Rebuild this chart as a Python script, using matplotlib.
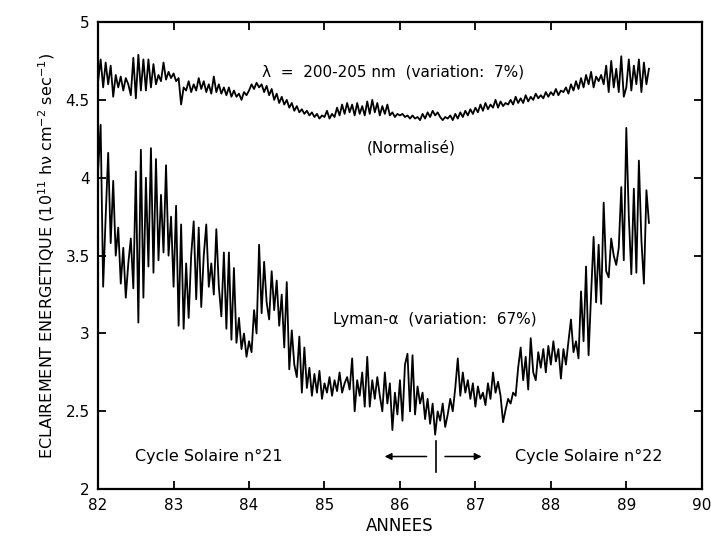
import numpy as np
import matplotlib
matplotlib.use("Agg")
import matplotlib.pyplot as plt

start_year = 82.0
per_year = 30

lyman = [
    # 82
    4.05, 4.34, 3.30, 3.75, 4.16, 3.58, 3.98, 3.50, 3.68, 3.32,
    3.55, 3.23, 3.45, 3.61, 3.29, 4.04, 3.07, 4.18, 3.23, 4.00,
    3.43, 4.19, 3.39, 4.12, 3.47, 3.89, 3.52, 4.08, 3.50, 3.75,
    # 83
    3.30, 3.82, 3.05, 3.70, 3.03, 3.45, 3.10, 3.50, 3.72, 3.22,
    3.68, 3.17, 3.50, 3.70, 3.30, 3.45, 3.25, 3.67, 3.30, 3.11,
    3.52, 3.03, 3.52, 2.96, 3.42, 2.94, 3.10, 2.90, 3.00, 2.85,
    # 84
    2.95, 2.88, 3.15, 3.00, 3.57, 3.13, 3.46, 3.20, 3.09, 3.40,
    3.15, 3.34, 3.05, 3.25, 2.91, 3.33, 2.77, 3.02, 2.80, 2.72,
    2.98, 2.62, 2.91, 2.65, 2.78, 2.60, 2.74, 2.62, 2.76, 2.58,
    # 85
    2.68, 2.62, 2.72, 2.60, 2.70, 2.63, 2.75, 2.62, 2.68, 2.72,
    2.64, 2.84, 2.50, 2.70, 2.60, 2.75, 2.53, 2.85, 2.53, 2.70,
    2.58, 2.72, 2.60, 2.50, 2.75, 2.55, 2.68, 2.38, 2.62, 2.48,
    # 86
    2.70, 2.44, 2.80, 2.87, 2.50, 2.86, 2.48, 2.66, 2.55, 2.62,
    2.45, 2.58, 2.42, 2.55, 2.35, 2.50, 2.44, 2.55, 2.40, 2.48,
    2.58, 2.50, 2.65, 2.84, 2.60, 2.75, 2.62, 2.70, 2.58, 2.68,
    # 87
    2.53, 2.66, 2.58, 2.62, 2.54, 2.68, 2.58, 2.75, 2.62, 2.69,
    2.60, 2.43, 2.51, 2.58, 2.55, 2.62, 2.60, 2.78, 2.91, 2.70,
    2.85, 2.64, 2.97, 2.75, 2.70, 2.88, 2.78, 2.90, 2.75, 2.92,
    # 88
    2.80, 2.95, 2.82, 2.90, 2.71, 2.90, 2.80, 2.95, 3.09, 2.88,
    2.95, 2.84, 3.27, 2.95, 3.43, 2.86, 3.25, 3.62, 3.20, 3.57,
    3.19, 3.84, 3.40, 3.36, 3.61, 3.50, 3.44, 3.55, 3.94, 3.47,
    # 89
    4.32, 3.75, 3.38, 3.93, 3.39, 4.11, 3.60, 3.32, 3.92, 3.71,
]

uv_200 = [
    # 82
    4.62, 4.76, 4.58, 4.74, 4.60, 4.72, 4.52, 4.66, 4.58, 4.65,
    4.56, 4.64, 4.60, 4.53, 4.77, 4.51, 4.79, 4.56, 4.76, 4.56,
    4.76, 4.58, 4.73, 4.60, 4.66, 4.62, 4.74, 4.63, 4.68, 4.64,
    # 83
    4.67, 4.62, 4.64, 4.47, 4.58, 4.56, 4.62, 4.55, 4.60, 4.56,
    4.64, 4.57, 4.62, 4.55, 4.60, 4.54, 4.65, 4.55, 4.60, 4.54,
    4.58, 4.53, 4.58, 4.52, 4.56, 4.52, 4.54, 4.50, 4.55, 4.53,
    # 84
    4.56, 4.60, 4.57, 4.61, 4.58, 4.60, 4.55, 4.59, 4.53, 4.57,
    4.50, 4.54, 4.48, 4.52, 4.47, 4.50, 4.45, 4.48, 4.43, 4.46,
    4.42, 4.44, 4.41, 4.43, 4.40, 4.42, 4.39, 4.41, 4.38, 4.40,
    # 85
    4.39, 4.43, 4.38, 4.41, 4.39, 4.45, 4.40, 4.47, 4.41, 4.48,
    4.42, 4.47, 4.40, 4.48, 4.41, 4.46, 4.40, 4.49, 4.41, 4.50,
    4.42, 4.48, 4.40, 4.46, 4.41, 4.47, 4.40, 4.42, 4.39, 4.41,
    # 86
    4.40, 4.41, 4.39, 4.40, 4.38, 4.40, 4.38, 4.39, 4.37, 4.41,
    4.38, 4.42, 4.39, 4.43, 4.40, 4.42, 4.39, 4.37, 4.39, 4.38,
    4.40, 4.37, 4.41, 4.38, 4.42, 4.39, 4.43, 4.40, 4.44, 4.41,
    # 87
    4.45, 4.42, 4.47, 4.43, 4.48, 4.44, 4.47, 4.45, 4.50, 4.45,
    4.49, 4.46, 4.48, 4.47, 4.50, 4.47, 4.52, 4.48, 4.51, 4.48,
    4.53, 4.49, 4.52, 4.50, 4.54, 4.51, 4.53, 4.51, 4.55, 4.52,
    # 88
    4.55, 4.53, 4.57, 4.53, 4.56, 4.55, 4.58, 4.54, 4.60, 4.56,
    4.62, 4.57, 4.64, 4.58, 4.66, 4.60, 4.68, 4.58, 4.65, 4.62,
    4.66, 4.60, 4.72, 4.55, 4.75, 4.58, 4.70, 4.55, 4.78, 4.52,
    # 89
    4.58, 4.76, 4.56, 4.72, 4.60, 4.76, 4.55, 4.74, 4.60, 4.70,
]

x_ticks = [82, 83, 84, 85, 86, 87, 88, 89, 90]
y_ticks = [2, 2.5, 3, 3.5, 4, 4.5, 5]
y_tick_labels = ["2", "2.5", "3", "3.5", "4", "4.5", "5"]

years_lyman = start_year + np.arange(len(lyman)) / per_year
years_uv = start_year + np.arange(len(uv_200)) / per_year

fig = plt.figure(figsize=(7.11, 5.37), dpi=100)
ax = fig.add_axes([0.138, 0.089, 0.849, 0.870])

ax.plot(years_uv, uv_200, color="black", lw=1.3)
ax.plot(years_lyman, lyman, color="black", lw=1.3)

ax.set_xlim(82, 90)
ax.set_ylim(2, 5)
ax.set_xticks(x_ticks)
ax.set_yticks(y_ticks)
ax.set_yticklabels(y_tick_labels)
ax.tick_params(direction="in", length=6, width=1.3, top=True, right=True,
               labelsize=11, pad=6)
for sp in ax.spines.values():
    sp.set_linewidth(1.6)

ax.set_xlabel("ANNEES", fontsize=12, labelpad=3)
ax.set_ylabel("ECLAIREMENT ENERGETIQUE (10$^{11}$ hν cm$^{-2}$ sec$^{-1}$)",
              fontsize=11.5, labelpad=6)

ax.text(84.17, 4.68, "λ  =  200-205 nm  (variation:  7%)", fontsize=11,
        va="center")
ax.text(85.56, 4.19, "(Normalisé)", fontsize=11, va="center")
ax.text(85.11, 3.09, "Lyman-α  (variation:  67%)", fontsize=11, va="center")
ax.text(82.49, 2.21, "Cycle Solaire n°21", fontsize=11.5, va="center")
ax.text(87.53, 2.21, "Cycle Solaire n°22", fontsize=11.5, va="center")

# start of cycle 22 marker
ax.plot([86.48, 86.48], [2.11, 2.31], color="black", lw=1.2)
ax.annotate("", xy=(85.76, 2.21), xytext=(86.39, 2.21),
            arrowprops=dict(arrowstyle="-|>", color="black", lw=1.1))
ax.annotate("", xy=(87.12, 2.21), xytext=(86.56, 2.21),
            arrowprops=dict(arrowstyle="-|>", color="black", lw=1.1))

fig.savefig("out.png", dpi=100)
